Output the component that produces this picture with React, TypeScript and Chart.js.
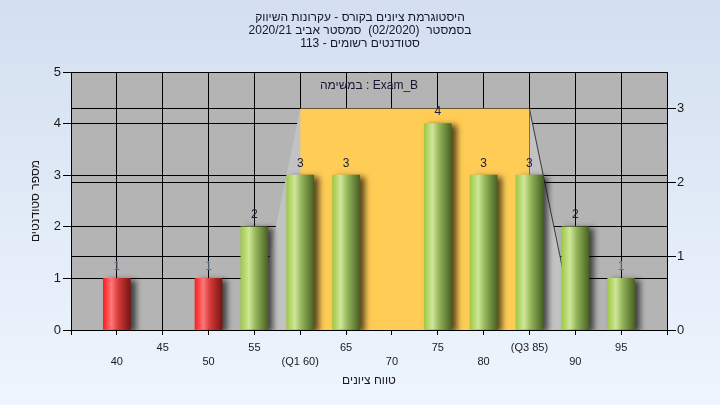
import React, { useEffect, useRef } from "react";
import { Chart, registerables } from "chart.js";

Chart.register(...registerables);

// ---------- data ----------
const grades = [40, 45, 50, 55, 60, 65, 70, 75, 80, 85, 90, 95];
const studentCounts = [1, 0, 1, 2, 3, 3, 0, 4, 3, 3, 2, 1];
const gradeTickLabels = ["40", "45", "50", "55", "(Q1 60)", "65", "70", "75", "80", "(Q3 85)", "90", "95"];
const passingGrade = 55;
const boxGrades = [55, 60, 85, 90];
const boxLevels = [0, 3, 3, 0];
const quartileGrades = [60, 85];
const quartileLevels = [3, 3];
const leftTicks = [0, 1, 2, 3, 4, 5];
const rightTicks = [0, 1, 2, 3];

const titleLines = [
  "היסטוגרמת ציונים בקורס - עקרונות השיווק",
  "בסמסטר  (02/2020)  סמסטר אביב 2020/21",
  "סטודנטים רשומים - 113",
];
const taskLabel = "במשימה : Exam_B";
const xAxisTitle = "טווח ציונים";
const yAxisTitle = "מספר סטודנטים";

const FONT = '"Liberation Sans", "DejaVu Sans", Arial, sans-serif';
const BAR_W = 27;

function barGradient(ctx: CanvasRenderingContext2D, px: number, red: boolean) {
  const g = ctx.createLinearGradient(px - BAR_W / 2, 0, px + BAR_W / 2, 0);
  if (red) {
    g.addColorStop(0, "#ff1c1c");
    g.addColorStop(0.3, "#ff7878");
    g.addColorStop(0.55, "#d63a3a");
    g.addColorStop(1, "#7a1414");
  } else {
    g.addColorStop(0, "#9fca45");
    g.addColorStop(0.3, "#cfe69a");
    g.addColorStop(0.55, "#93b55a");
    g.addColorStop(1, "#4a6224");
  }
  return g;
}

const plotBgPlugin = {
  id: "plotBg",
  beforeDraw(chart: any) {
    const { ctx, chartArea } = chart;
    if (!chartArea) return;
    ctx.save();
    ctx.fillStyle = "#b4b4b4";
    ctx.fillRect(chartArea.left, chartArea.top, chartArea.right - chartArea.left, chartArea.bottom - chartArea.top);
    ctx.restore();
  },
};

const shadowPlugin = {
  id: "barShadow",
  beforeDatasetDraw(chart: any, args: any) {
    if (args.meta.type !== "bar") return;
    const ctx = chart.ctx;
    ctx.save();
    ctx.shadowColor = "rgba(0,0,0,0.65)";
    ctx.shadowBlur = 6;
    ctx.shadowOffsetX = 5;
    ctx.shadowOffsetY = 2;
  },
  afterDatasetDraw(chart: any, args: any) {
    if (args.meta.type !== "bar") return;
    chart.ctx.restore();
  },
};

const labelsPlugin = {
  id: "valueLabels",
  afterDatasetsDraw(chart: any) {
    const { ctx, chartArea } = chart;
    ctx.save();
    ctx.shadowColor = "transparent";
    ctx.font = `12px ${FONT}`;
    ctx.textAlign = "center";
    ctx.textBaseline = "middle";
    chart.data.datasets.forEach((ds: any, di: number) => {
      if (ds.type !== "bar") return;
      const meta = chart.getDatasetMeta(di);
      meta.data.forEach((el: any, i: number) => {
        const v = studentCounts[i];
        if (!v) return;
        ctx.fillStyle = v === 1 ? "#5a7896" : "#1c1c3c";
        ctx.fillText(String(v), el.x, el.y - 12);
      });
    });
    ctx.fillStyle = "#1c1430";
    ctx.font = `12px ${FONT}`;
    ctx.fillText(taskLabel, (chartArea.left + chartArea.right) / 2, chartArea.top + 14);
    ctx.restore();
  },
};

export default function App() {
  const ref = useRef<HTMLCanvasElement | null>(null);

  useEffect(() => {
    if (!ref.current) return;
    const chart = new Chart(ref.current, {
      type: "bar",
      data: {
        datasets: [
          {
            type: "bar",
            label: "counts",
            data: grades.map((g, i) => ({ x: g, y: studentCounts[i] === 0 ? null : studentCounts[i] })),
            xAxisID: "x",
            yAxisID: "y",
            barThickness: BAR_W,
            borderWidth: 0,
            order: 1,
            backgroundColor: (c: any) => {
              const chart = c.chart;
              const g = grades[c.dataIndex];
              const red = g < passingGrade;
              if (!chart.chartArea || !chart.scales.x) return red ? "#e02020" : "#90b84a";
              const px = chart.scales.x.getPixelForValue(g);
              return barGradient(chart.ctx, px, red);
            },
          } as any,
          {
            type: "line",
            label: "box",
            data: boxGrades.map((g, i) => ({ x: g, y: boxLevels[i] })),
            xAxisID: "x",
            yAxisID: "y2",
            fill: "origin",
            backgroundColor: "#c2c2c2",
            borderWidth: 1,
            borderColor: "rgba(0,0,0,0)",
            segment: {
              borderColor: (c: any) => (c.p0DataIndex === 2 ? "#3a3a3a" : "rgba(0,0,0,0)"),
            },
            pointRadius: 0,
            tension: 0,
            order: 3,
          } as any,
          {
            type: "line",
            label: "quartiles",
            data: quartileGrades.map((g, i) => ({ x: g, y: quartileLevels[i] })),
            xAxisID: "x",
            yAxisID: "y2",
            fill: "origin",
            backgroundColor: "#ffcc55",
            borderWidth: 0,
            borderColor: "rgba(0,0,0,0)",
            pointRadius: 0,
            order: 2,
          } as any,
        ],
      },
      options: {
        responsive: false,
        animation: false,
        events: [],
        layout: { padding: 0 },
        plugins: {
          legend: { display: false },
          tooltip: { enabled: false },
          title: {
            display: true,
            text: titleLines,
            color: "#161630",
            font: { family: FONT, size: 12, weight: "normal", lineHeight: "13px" } as any,
            padding: { top: 11, bottom: 22 },
          },
        },
        scales: {
          x: {
            type: "linear",
            position: "bottom",
            min: 35,
            max: 100,
            offset: false,
            afterFit: (s: any) => {
              s.height = 75;
            },
            ticks: {
              stepSize: 5,
              autoSkip: false,
              maxRotation: 0,
              padding: 6,
              color: "#1a1a1a",
              font: { family: FONT, size: 11, lineHeight: 1.27 },
              callback: (v: any) => {
                const i = grades.indexOf(Number(v));
                if (i < 0) return "";
                return i % 2 === 1 ? [gradeTickLabels[i], ""] : ["", gradeTickLabels[i]];
              },
            },
            grid: { color: "#000", lineWidth: 1, tickLength: 5, drawTicks: true, offset: false },
            border: { display: true, color: "#000" },
            title: {
              display: true,
              text: xAxisTitle,
              color: "#1a1a1a",
              font: { family: FONT, size: 12 },
              padding: { top: 0, bottom: 17 },
            },
          },
          y: {
            type: "linear",
            position: "left",
            min: leftTicks[0],
            max: leftTicks[leftTicks.length - 1],
            afterFit: (s: any) => {
              s.width = 71;
            },
            ticks: {
              stepSize: 1,
              padding: 2,
              color: "#1a1a1a",
              font: { family: FONT, size: 13 },
            },
            grid: { color: "#000", lineWidth: 1, tickLength: 8 },
            border: { display: true, color: "#000" },
            title: {
              display: true,
              text: yAxisTitle,
              color: "#1a1a1a",
              font: { family: FONT, size: 12 },
              padding: { top: 28, bottom: 0 },
            },
          },
          y2: {
            type: "linear",
            position: "right",
            min: rightTicks[0],
            max: 3.5,
            afterFit: (s: any) => {
              s.width = 53;
            },
            ticks: {
              stepSize: 1,
              includeBounds: false,
              padding: 1,
              color: "#1a1a1a",
              font: { family: FONT, size: 13 },
              callback: (v: any) => (rightTicks.includes(Number(v)) ? String(v) : ""),
            },
            grid: { color: "#000", lineWidth: 1, tickLength: 9 },
            border: { display: true, color: "#000" },
          },
        },
      },
      plugins: [plotBgPlugin, shadowPlugin, labelsPlugin],
    } as any);
    return () => chart.destroy();
  }, []);

  return (
    <div
      style={{
        position: "absolute",
        left: 0,
        top: 0,
        width: 720,
        height: 405,
        background: "linear-gradient(to bottom, #d3dff0 0%, #eef5fe 100%)",
      }}
    >
      <canvas ref={ref} width={720} height={405} style={{ display: "block" }} />
    </div>
  );
}
